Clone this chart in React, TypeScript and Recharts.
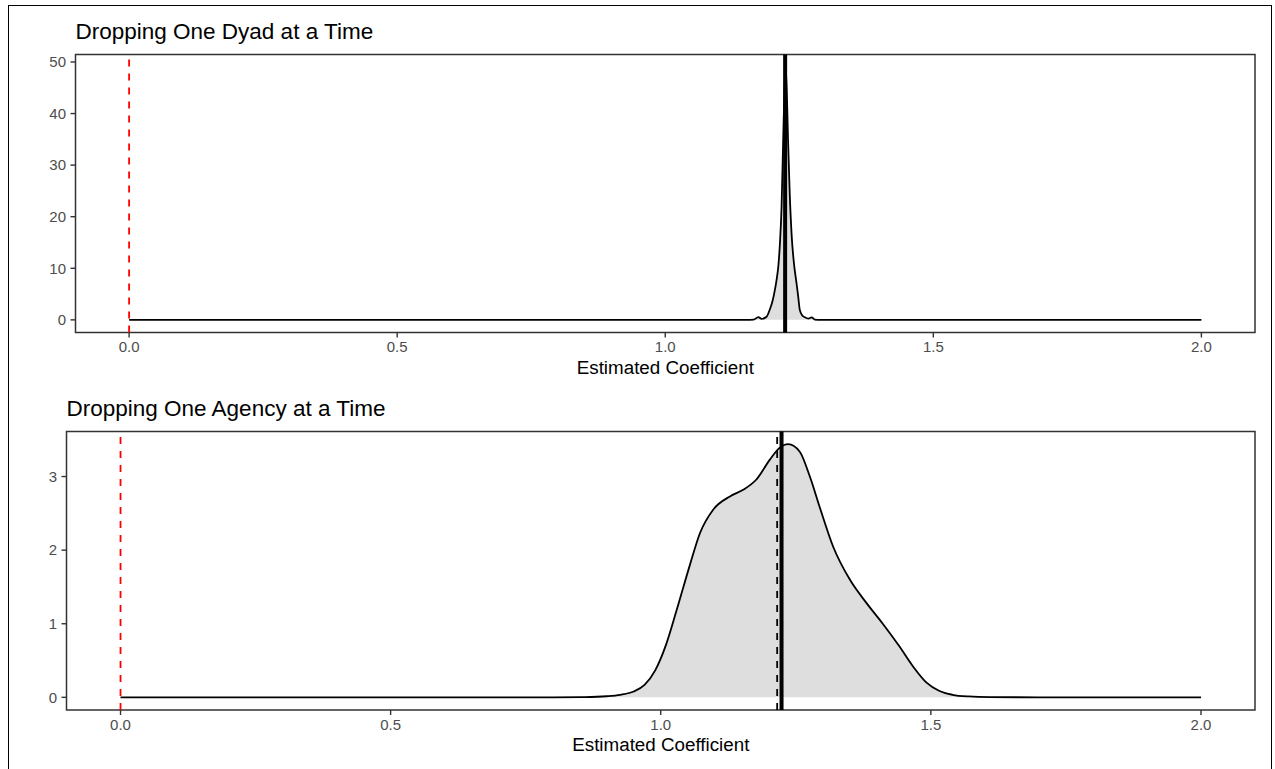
import React from 'react';
import { ComposedChart, Area, XAxis, YAxis, ReferenceLine, ReferenceArea } from 'recharts';

const FONT = '"Liberation Sans", Arial, Helvetica, sans-serif';

// ---- data ----
const xTicks = [0, 0.5, 1.0, 1.5, 2.0];
const xDomain: [number, number] = [-0.1, 2.1];

const dyadTitle = 'Dropping One Dyad at a Time';
const agencyTitle = 'Dropping One Agency at a Time';
const xLabel = 'Estimated Coefficient';

const dyadX = [0, 0.5, 1.0, 1.15, 1.165, 1.1735, 1.18, 1.189, 1.195, 1.2, 1.2045, 1.208, 1.211, 1.214, 1.217, 1.22, 1.2225, 1.2245, 1.2265, 1.229, 1.232, 1.236, 1.24, 1.245, 1.248, 1.251, 1.256, 1.2605, 1.2667, 1.273, 1.279, 1.29, 1.5, 2.0];
const dyadDensity = [0, 0, 0, 0, 0.05, 0.55, 0.2, 0.6, 2.0, 3.6, 5.8, 8.0, 10.5, 15, 22, 35, 45, 49, 45, 35, 25, 16, 11, 7, 4.5, 1.9, 0.8, 0.5, 0.25, 0.5, 0.05, 0, 0, 0];
const dyadYTicks = [0, 10, 20, 30, 40, 50];
const dyadYDomain: [number, number] = [-2.45, 51.45];

const agencyX = [0, 0.5, 0.8, 0.86, 0.9, 0.925, 0.95, 0.97, 0.99, 1.01, 1.03, 1.054, 1.0725, 1.097, 1.128, 1.1525, 1.177, 1.202, 1.22, 1.236, 1.257, 1.276, 1.294, 1.319, 1.35, 1.381, 1.411, 1.442, 1.467, 1.492, 1.515, 1.54, 1.57, 1.61, 1.7, 2.0];
const agencyDensity = [0, 0, 0, 0.003, 0.015, 0.035, 0.08, 0.17, 0.37, 0.72, 1.2, 1.8, 2.23, 2.55, 2.73, 2.82, 2.96, 3.23, 3.39, 3.44, 3.34, 3.0, 2.59, 2.05, 1.6, 1.28, 1.0, 0.69, 0.42, 0.2, 0.09, 0.035, 0.012, 0.003, 0, 0];
const agencyYTicks = [0, 1, 2, 3];
const agencyYDomain: [number, number] = [-0.172, 3.612];

const nullValue = 0;
const dyadFull = 1.2236;
const dyadMean = 1.2232;
const agencyFull = 1.2236;
const agencyMean = 1.2155;

const dyadData = dyadX.map((x, i) => ({ x, y: dyadDensity[i] }));
const agencyData = agencyX.map((x, i) => ({ x, y: agencyDensity[i] }));

type PanelProps = {
  data: { x: number; y: number }[];
  yDomain: [number, number];
  yTicks: number[];
  full: number;
  mean: number;
  top: number;
  height: number;
  margin: { top: number; right: number; bottom: number; left: number };
  yAxisWidth: number;
};

function Panel(p: PanelProps) {
  const tickStyle = { fill: '#4D4D4D', fontSize: 15, fontFamily: FONT };
  return (
    <div style={{ position: 'absolute', left: 0, top: p.top, width: 1275, height: p.height }}>
      <ComposedChart width={1275} height={p.height} data={p.data} margin={p.margin}>
        <XAxis
          type="number"
          dataKey="x"
          domain={xDomain}
          ticks={xTicks}
          allowDataOverflow
          tickFormatter={(v: number) => v.toFixed(1)}
          axisLine={false}
          tickLine={{ stroke: '#333333', strokeWidth: 1.4 }}
          tickSize={5}
          tickMargin={4}
          tick={tickStyle}
          height={30}
          interval={0}
        />
        <YAxis
          type="number"
          domain={p.yDomain}
          ticks={p.yTicks}
          allowDataOverflow
          axisLine={false}
          tickLine={{ stroke: '#333333', strokeWidth: 1.4 }}
          tickSize={5}
          tickMargin={4.5}
          tick={tickStyle}
          width={p.yAxisWidth}
          interval={0}
        />
        <Area
          type="monotone"
          dataKey="y"
          baseValue={0}
          stroke="#000000"
          strokeWidth={1.8}
          fill="#DEDEDE"
          fillOpacity={1}
          isAnimationActive={false}
          dot={false}
          activeDot={false}
        />
        <ReferenceLine x={nullValue} stroke="#FF0000" strokeWidth={1.8} strokeDasharray="7 7" />
        <ReferenceLine x={p.mean} stroke="#000000" strokeWidth={1.8} strokeDasharray="7 7" />
        <ReferenceLine x={p.full} stroke="#000000" strokeWidth={4} />
        <ReferenceArea
          x1={xDomain[0]}
          x2={xDomain[1]}
          y1={p.yDomain[0]}
          y2={p.yDomain[1]}
          fill="none"
          fillOpacity={0}
          stroke="#333333"
          strokeWidth={1.5}
          ifOverflow="visible"
        />
      </ComposedChart>
    </div>
  );
}

const textBase: React.CSSProperties = {
  position: 'absolute',
  fontFamily: FONT,
  color: '#000000',
  lineHeight: 1,
  whiteSpace: 'nowrap',
};

export default function App() {
  return (
    <div style={{ position: 'fixed', left: 0, top: 0, width: 1275, height: 769, overflow: 'hidden', background: '#FFFFFF' }}>
      <div
        style={{
          position: 'absolute',
          left: 7.5,
          top: 4.5,
          width: 1264,
          height: 900,
          boxSizing: 'border-box',
          border: '1px solid #000000',
        }}
      />
      <Panel
        data={dyadData}
        yDomain={dyadYDomain}
        yTicks={dyadYTicks}
        full={dyadFull}
        mean={dyadMean}
        top={0}
        height={400}
        margin={{ top: 54.5, right: 20, bottom: 37.5, left: 15.5 }}
        yAxisWidth={60}
      />
      <Panel
        data={agencyData}
        yDomain={agencyYDomain}
        yTicks={agencyYTicks}
        full={agencyFull}
        mean={agencyMean}
        top={400}
        height={369}
        margin={{ top: 31.5, right: 20, bottom: 29, left: 16.5 }}
        yAxisWidth={50}
      />
      <div style={{ ...textBase, left: 75.5, top: 40 - 0.8465 * 22.5, fontSize: 22.5 }}>{dyadTitle}</div>
      <div style={{ ...textBase, left: 66.5, top: 416.7 - 0.8465 * 22.5, fontSize: 22.5 }}>{agencyTitle}</div>
      <div
        style={{
          ...textBase,
          left: 665.3,
          top: 375 - 0.8465 * 18.8,
          fontSize: 18.8,
          transform: 'translateX(-50%)',
        }}
      >
        {xLabel}
      </div>
      <div
        style={{
          ...textBase,
          left: 660.8,
          top: 751.7 - 0.8465 * 18.8,
          fontSize: 18.8,
          transform: 'translateX(-50%)',
        }}
      >
        {xLabel}
      </div>
    </div>
  );
}
